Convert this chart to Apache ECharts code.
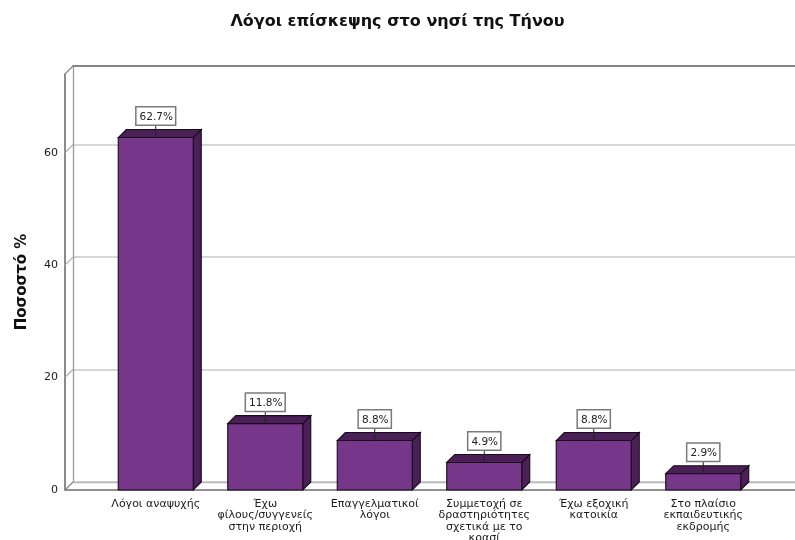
<!DOCTYPE html>
<html>
<head>
<meta charset="utf-8">
<script src="https://cdn.jsdelivr.net/npm/echarts@6/dist/echarts.min.js"></script>
<style>
  html, body { margin: 0; padding: 0; background: #ffffff; }
  #chart { width: 795px; height: 540px; }
</style>
</head>
<body>
<div id="chart"></div>
<script>
// Reasons for visiting Tinos (percent of respondents)
const categories = [
  'Λόγοι αναψυχής',
  'Έχω\nφίλους/συγγενείς\nστην περιοχή',
  'Επαγγελματικοί\nλόγοι',
  'Συμμετοχή σε\nδραστηριότητες\nσχετικά με το\nκρασί',
  'Έχω εξοχική\nκατοικία',
  'Στο πλαίσιο\nεκπαιδευτικής\nεκδρομής'
];
const percentages = [62.7, 11.8, 8.8, 4.9, 8.8, 2.9];
const yTicks = [0, 20, 40, 60];

const FONT = 'DejaVu Sans';
const Y_MAX = 74;
const DEPTH = 8;          // 3D offset of the back wall / bar depth in px
const FRONT = '#763689';
const SHADE = '#4a2057';
const EDGE = '#170a1c';

const chart = echarts.init(document.getElementById('chart'), null, { renderer: 'canvas' });

// Diagonal edges joining the front frame to the back wall at each tick and at the top
function renderWallEdges(params, api) {
  const p = api.coord([0, api.value(0)]);
  return {
    type: 'line',
    shape: { x1: p[0] - DEPTH, y1: p[1] + DEPTH, x2: p[0], y2: p[1] },
    style: { stroke: api.value(0) === Y_MAX || api.value(0) === 0 ? '#888888' : '#b0b0b0', lineWidth: 1.3 }
  };
}

// 3D bar: front face, top face, side face and a boxed value label with a leader line
function renderBar(params, api) {
  const top = api.coord([api.value(0), api.value(1)]);
  const base = api.coord([api.value(0), 0]);
  const bw = api.size([1, 0])[0] * 0.685;
  const left = top[0] - bw / 2;
  const right = left + bw;
  const yTop = top[1];
  const yBot = base[1];
  const cx = top[0];
  const labelGap = 13;
  return {
    type: 'group',
    children: [
      {
        type: 'polygon',
        shape: { points: [[right, yTop], [right + DEPTH, yTop - DEPTH], [right + DEPTH, yBot - DEPTH], [right, yBot]] },
        style: { fill: SHADE, stroke: EDGE, lineWidth: 1.1 }
      },
      {
        type: 'polygon',
        shape: { points: [[left, yTop], [left + DEPTH, yTop - DEPTH], [right + DEPTH, yTop - DEPTH], [right, yTop]] },
        style: { fill: SHADE, stroke: EDGE, lineWidth: 1.1 }
      },
      {
        type: 'rect',
        shape: { x: left, y: yTop, width: bw, height: yBot - yTop },
        style: { fill: FRONT, stroke: EDGE, lineWidth: 1.1 }
      },
      {
        type: 'line',
        shape: { x1: cx, y1: yTop, x2: cx, y2: yTop - labelGap },
        style: { stroke: '#222222', lineWidth: 1 }
      },
      {
        type: 'text',
        x: cx,
        y: yTop - labelGap,
        style: {
          text: api.value(1).toFixed(1) + '%',
          align: 'center',
          verticalAlign: 'bottom',
          fontFamily: FONT,
          fontSize: 10.5,
          fill: '#222222',
          backgroundColor: '#ffffff',
          borderColor: '#7a7a7a',
          borderWidth: 1.5,
          padding: [4, 2, 2, 3]
        }
      }
    ]
  };
}

const option = {
  backgroundColor: '#ffffff',
  animation: false,
  title: {
    text: 'Λόγοι επίσκεψης στο νησί της Τήνου',
    left: 'center',
    top: 9,
    textStyle: { fontFamily: FONT, fontSize: 16, fontWeight: 'bold', color: '#111111' }
  },
  grid: [
    // front frame
    { left: 65, right: 0, top: 74, bottom: 50, outerBoundsMode: 'none' },
    // back wall
    { left: 73, right: 0, top: 66, bottom: 58, outerBoundsMode: 'none' },
    // bars
    { left: 101, right: 37, top: 74, bottom: 50, outerBoundsMode: 'none' }
  ],
  xAxis: [
    { gridIndex: 0, type: 'value', min: 0, max: 1, axisLine: { show: true, onZero: false, lineStyle: { color: '#6e6e6e', width: 1.6 } }, axisTick: { show: false }, axisLabel: { show: false }, splitLine: { show: false } },
    { gridIndex: 1, type: 'value', min: 0, max: 1, axisLine: { show: true, onZero: false, lineStyle: { color: '#b8b8b8', width: 1.3 } }, axisTick: { show: false }, axisLabel: { show: false }, splitLine: { show: false } },
    { gridIndex: 1, type: 'value', position: 'top', min: 0, max: 1, axisLine: { show: true, onZero: false, lineStyle: { color: '#858585', width: 2 } }, axisTick: { show: false }, axisLabel: { show: false }, splitLine: { show: false } },
    {
      gridIndex: 2, type: 'category', data: categories,
      axisLine: { show: false }, axisTick: { show: false },
      axisLabel: { interval: 0, margin: 8, fontFamily: FONT, fontSize: 11, lineHeight: 11.5, color: '#1a1a1a', align: 'center' }
    }
  ],
  yAxis: [
    {
      gridIndex: 0, type: 'value', min: 0, max: Y_MAX, interval: 20,
      name: 'Ποσοστό %', nameLocation: 'middle', nameRotate: 90, nameGap: 35,
      nameTextStyle: { fontFamily: FONT, fontSize: 15, fontWeight: 'bold', color: '#111111' },
      axisLine: { show: true, lineStyle: { color: '#6e6e6e', width: 1.6 } },
      axisTick: { show: false },
      axisLabel: { showMaxLabel: false, margin: 7, fontFamily: FONT, fontSize: 11, color: '#1a1a1a',
        formatter: v => (yTicks.indexOf(v) >= 0 ? String(v) : '') },
      splitLine: { show: false }
    },
    {
      gridIndex: 1, type: 'value', min: 0, max: Y_MAX, interval: 20,
      axisLine: { show: true, lineStyle: { color: '#9a9a9a', width: 1.3 } },
      axisTick: { show: false }, axisLabel: { show: false },
      splitLine: { show: true, lineStyle: { color: '#d6d6d6', width: 2 } }
    },
    { gridIndex: 2, type: 'value', min: 0, max: Y_MAX, show: false, splitLine: { show: false } }
  ],
  series: [
    {
      type: 'custom',
      xAxisIndex: 1, yAxisIndex: 1,
      data: yTicks.concat([Y_MAX]).map(v => [v]),
      renderItem: renderWallEdges,
      silent: true,
      z: 1
    },
    {
      type: 'custom',
      xAxisIndex: 3, yAxisIndex: 2,
      data: percentages.map((v, i) => [i, v]),
      encode: { x: 0, y: 1 },
      renderItem: renderBar,
      z: 5
    }
  ]
};

chart.setOption(option);
</script>
</body>
</html>
